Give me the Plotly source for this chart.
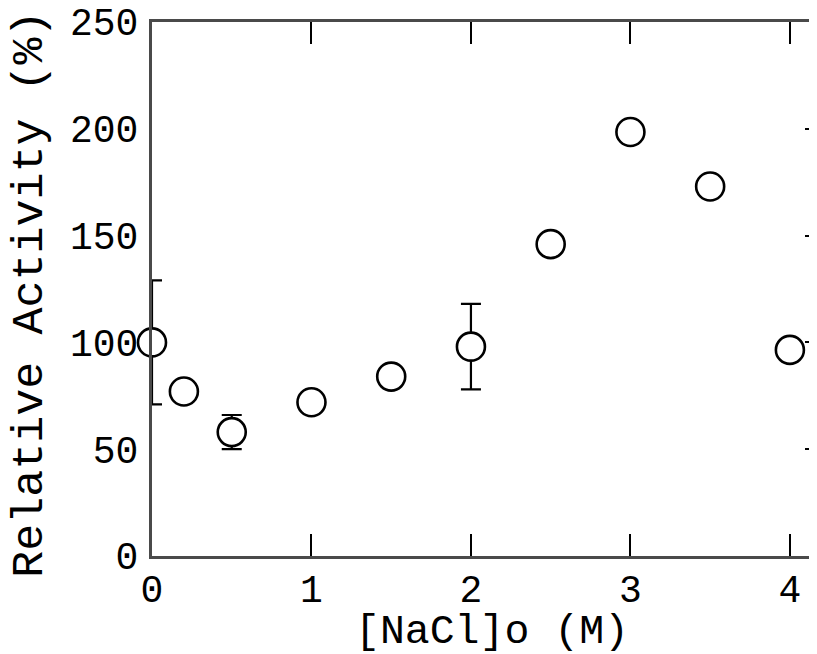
import plotly.graph_objects as go

nacl = [0, 0.2, 0.5, 1.0, 1.5, 2.0, 2.5, 3.0, 3.5, 4.0]
activity = [100, 77, 58, 72, 84, 98, 146, 198.5, 173, 96.5]
err = [29, 0, 8, 0, 0, 20, 0, 0, 0, 0]

x_ticks = [0, 1, 2, 3, 4]
x_ticktext = ["0", "1", "2", "3", "4"]
y_ticks = [0, 50, 100, 150, 200, 250]
y_ticktext = ["0", "50", "100", "150", "200", "250"]
x_title = "[NaCl]o (M)"
y_title = "Relative Activity (%)"

FONT = "Liberation Mono, Courier New, monospace"
AX = "#4a4a4a"
XR = [0, 4.17]
YR = [0, 250]

fig = go.Figure()
fig.add_trace(go.Scatter(
    x=nacl, y=activity, mode="markers",
    marker=dict(symbol="circle", size=28, color="white", line=dict(width=2.6, color="black")),
    error_y=dict(type="data", array=err, visible=True, color="black", thickness=2.2, width=10),
    cliponaxis=False, showlegend=False,
))
# invisible trace to hold the mirrored axes
fig.add_trace(go.Scatter(x=XR, y=YR, xaxis="x2", yaxis="y2", mode="markers",
                         marker=dict(opacity=0), showlegend=False, hoverinfo="skip"))

fig.update_layout(
    width=817, height=654,
    margin=dict(l=144, r=8, t=14, b=106, autoexpand=False),
    paper_bgcolor="white", plot_bgcolor="white",
    font=dict(family=FONT, color="black", size=38),
    xaxis=dict(range=XR, tickvals=x_ticks, ticktext=x_ticktext, ticks="inside", ticklen=22,
               tickwidth=2, tickcolor="black", showline=True, linecolor=AX, linewidth=3,
               showgrid=False, zeroline=False, ticklabelstandoff=-3, automargin=False,
               ticklabeloverflow="allow"),
    yaxis=dict(range=YR, tickvals=y_ticks, ticktext=y_ticktext, ticks="",
               showline=True, linecolor=AX, linewidth=3, showgrid=False, zeroline=False,
               ticklabelstandoff=3, automargin=False, ticklabeloverflow="allow"),
    xaxis2=dict(range=XR, overlaying="x", side="top", anchor="y", tickvals=[1, 2, 3, 4],
                ticks="inside", ticklen=22, tickwidth=2, tickcolor="black", showticklabels=False,
                showline=True, linecolor=AX, linewidth=3, showgrid=False, zeroline=False,
                automargin=False),
    yaxis2=dict(range=YR, overlaying="y", side="right", anchor="x", tickvals=[50, 100, 150, 200],
                ticks="inside", ticklen=12, tickwidth=2, tickcolor="black", showticklabels=False,
                showline=False, showgrid=False, zeroline=False, automargin=False),
    annotations=[
        dict(text=x_title, xref="paper", yref="paper", x=0.512, y=-0.1414,
             xanchor="center", yanchor="middle", showarrow=False, font=dict(size=41.5)),
        dict(text=y_title, xref="paper", yref="paper", x=-0.184, y=0.4906, textangle=-90,
             xanchor="center", yanchor="middle", showarrow=False, font=dict(size=45)),
    ],
)

fig.write_html("out.html")
